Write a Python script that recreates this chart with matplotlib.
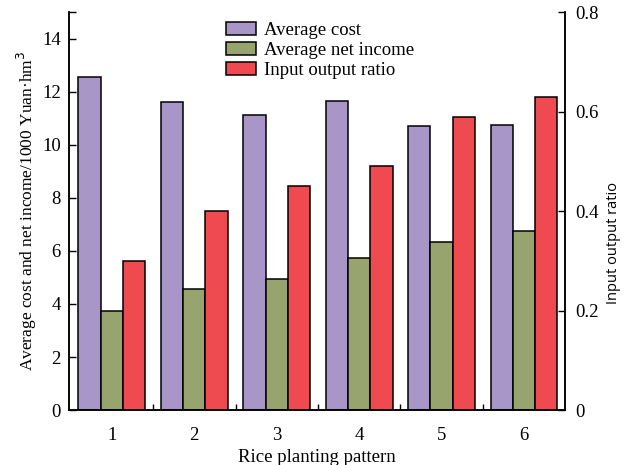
import matplotlib.pyplot as plt
import numpy as np
from matplotlib.ticker import FixedLocator

patterns = ["1", "2", "3", "4", "5", "6"]
avg_cost = [12.54, 11.63, 11.11, 11.66, 10.69, 10.73]
avg_net_income = [3.73, 4.57, 4.94, 5.72, 6.32, 6.76]
io_ratio = [0.30, 0.40, 0.45, 0.49, 0.59, 0.63]

plt.rcParams["font.family"] = ["Liberation Serif", "DejaVu Serif"]

c_cost = "#a996c8"
c_income = "#97a46d"
c_ratio = "#ee4a4f"

fig = plt.figure(figsize=(6.33, 4.65), dpi=100)
ax = fig.add_axes([0.109, 0.118, 0.784, 0.856])
ax2 = ax.twinx()

x = np.arange(1, len(patterns) + 1)
w = 0.27
b1 = ax.bar(x - w, avg_cost, w, color=c_cost, edgecolor="black", linewidth=1.1,
            label="Average cost")
b2 = ax.bar(x, avg_net_income, w, color=c_income, edgecolor="black", linewidth=1.1,
            label="Average net income")
b3 = ax2.bar(x + w, io_ratio, w, color=c_ratio, edgecolor="black", linewidth=1.1,
             label="Input output ratio")

ax.set_xlim(0.48, 6.5)
ax.set_ylim(0, 15)
ax2.set_ylim(0, 0.8)

ax.set_xticks(x)
ax.set_xticklabels(patterns)
ax.xaxis.set_minor_locator(FixedLocator([1.5, 2.5, 3.5, 4.5, 5.5]))
ax.tick_params(axis="x", which="major", length=0, pad=12, labelsize=13.5)
ax.tick_params(axis="x", which="minor", direction="in", length=4, width=1)

ax.set_yticks(np.arange(0, 15, 2))
ax.yaxis.set_minor_locator(FixedLocator([15]))
ax.tick_params(axis="y", which="major", direction="in", length=5, width=1,
               labelsize=13.5, pad=6)
ax.tick_params(axis="y", which="minor", direction="in", length=5, width=1)

ax2.set_yticks([0, 0.2, 0.4, 0.6, 0.8])
ax2.set_yticklabels(["0", "0.2", "0.4", "0.6", "0.8"])
ax2.tick_params(axis="y", direction="in", length=5, width=1, labelsize=13.5, pad=7)

for a in (ax, ax2):
    a.spines["top"].set_visible(False)
    for s in ("left", "right", "bottom"):
        a.spines[s].set_linewidth(1.1)

ax.set_xlabel("Rice planting pattern", fontsize=13.5, labelpad=4)
ax.set_ylabel("Average cost and net income/1000 Yuan·hm$^{3}$", fontsize=12.5,
              labelpad=2)
ax2.set_ylabel("Input output ratio", fontsize=10.5, family=["Open Sans", "DejaVu Sans"])
ax2.yaxis.set_label_coords(1.083, 0.42)

ax.legend(handles=[b1, b2, b3], loc="upper left", bbox_to_anchor=(0.305, 0.99),
          frameon=False, fontsize=13.5, handlelength=1.6, handleheight=0.7,
          handletextpad=0.45, labelspacing=0.15, borderaxespad=0, borderpad=0.3)

fig.savefig("out.png", dpi=100)
